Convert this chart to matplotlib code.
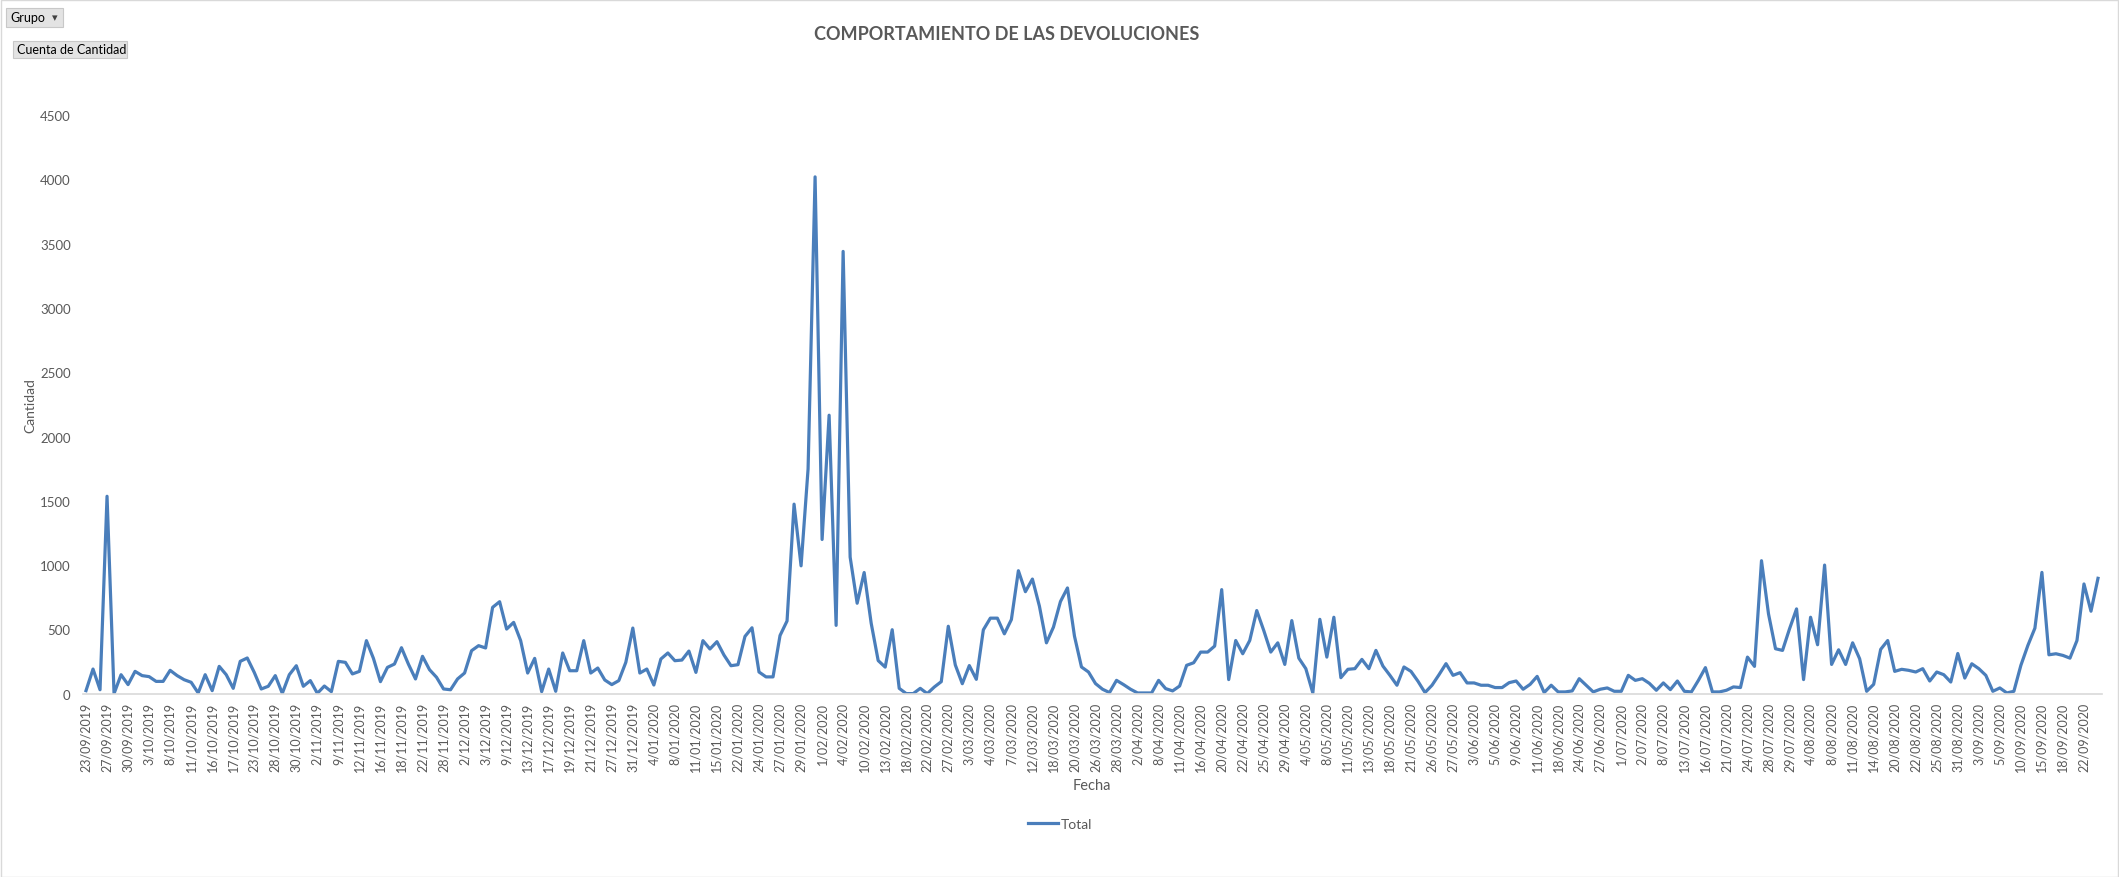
import numpy as np
import matplotlib.pyplot as plt
from matplotlib.patches import Rectangle

plt.rcParams['font.family'] = ['Lato', 'DejaVu Sans']

# daily count of returns (Cuenta de Cantidad), 288 records
cantidad = [
    23, 191, 30, 1535, 0, 147, 70, 173, 140, 132, 95, 95, 181, 140, 108, 88, 5, 147, 23, 212, 147, 41, 251, 277,
    165, 36, 57, 140, 2, 147, 217, 57, 101, 2, 59, 15, 251, 243, 153, 173, 412, 274, 93, 204, 230, 357, 228, 114,
    290, 186, 127, 36, 30, 114, 160, 334, 373, 355, 671, 715, 502, 554, 412, 160, 274, 15, 191, 18, 316, 178, 178, 412,
    160, 199, 106, 70, 101, 243, 510, 160, 191, 67, 269, 316, 256, 261, 331, 165, 412, 347, 404, 300, 217, 225, 445, 512,
    168, 130, 130, 452, 565, 1474, 994, 1748, 4020, 1199, 2166, 531, 3440, 1062, 703, 942, 548, 257, 206, 497, 41, 0, 0, 41,
    0, 51, 93, 524, 223, 77, 218, 111, 496, 587, 587, 465, 576, 956, 793, 891, 680, 395, 517, 716, 822, 447, 207, 168,
    78, 34, 8, 103, 70, 34, 5, 5, 5, 103, 39, 21, 59, 220, 240, 323, 323, 370, 809, 109, 413, 310, 413, 646,
    491, 323, 395, 227, 568, 276, 194, 5, 578, 284, 594, 124, 189, 194, 266, 194, 336, 214, 142, 65, 207, 173, 96, 8,
    65, 147, 233, 142, 163, 83, 83, 65, 65, 47, 47, 85, 98, 34, 72, 134, 8, 65, 13, 13, 21, 116, 65, 13,
    34, 44, 18, 18, 142, 103, 116, 80, 26, 83, 31, 98, 18, 13, 103, 202, 13, 13, 26, 52, 47, 284, 212, 1034,
    620, 349, 336, 504, 659, 109, 594, 380, 1000, 227, 341, 227, 395, 271, 18, 72, 344, 413, 173, 189, 181, 168, 194, 98,
    168, 147, 90, 312, 121, 232, 194, 142, 18, 44, 5, 18, 220, 375, 509, 943, 302, 310, 297, 276, 413, 853, 641, 897,
]

# every third date is shown on the axis
fechas = [
    '23/09/2019', '27/09/2019', '30/09/2019', '3/10/2019', '8/10/2019', '11/10/2019', '16/10/2019', '17/10/2019',
    '23/10/2019', '28/10/2019', '30/10/2019', '2/11/2019', '9/11/2019', '12/11/2019', '16/11/2019', '18/11/2019',
    '22/11/2019', '28/11/2019', '2/12/2019', '3/12/2019', '9/12/2019', '13/12/2019', '17/12/2019', '19/12/2019',
    '21/12/2019', '27/12/2019', '31/12/2019', '4/01/2020', '8/01/2020', '11/01/2020', '15/01/2020', '22/01/2020',
    '24/01/2020', '27/01/2020', '29/01/2020', '1/02/2020', '4/02/2020', '10/02/2020', '13/02/2020', '18/02/2020',
    '22/02/2020', '27/02/2020', '3/03/2020', '4/03/2020', '7/03/2020', '12/03/2020', '18/03/2020', '20/03/2020',
    '26/03/2020', '28/03/2020', '2/04/2020', '8/04/2020', '11/04/2020', '16/04/2020', '20/04/2020', '22/04/2020',
    '25/04/2020', '29/04/2020', '4/05/2020', '8/05/2020', '11/05/2020', '13/05/2020', '18/05/2020', '21/05/2020',
    '26/05/2020', '27/05/2020', '3/06/2020', '5/06/2020', '9/06/2020', '11/06/2020', '18/06/2020', '24/06/2020',
    '27/06/2020', '1/07/2020', '2/07/2020', '8/07/2020', '13/07/2020', '16/07/2020', '21/07/2020', '24/07/2020',
    '28/07/2020', '29/07/2020', '4/08/2020', '8/08/2020', '11/08/2020', '14/08/2020', '20/08/2020', '22/08/2020',
    '25/08/2020', '31/08/2020', '3/09/2020', '5/09/2020', '10/09/2020', '15/09/2020', '18/09/2020', '22/09/2020',
]

gris = '#595959'
azul = '#4A7EBB'

W, H = 2119, 878
fig = plt.figure(figsize=(W / 100, H / 100), dpi=100)
fig.patch.set_facecolor('white')
fig.patches.append(Rectangle((0.5 / W, 0.5 / H), 1 - 1.5 / W, 1 - 1.5 / H, transform=fig.transFigure,
                             fill=False, edgecolor='#d9d9d9', lw=1))

ax = fig.add_axes([82.5 / W, (H - 694.6) / H, (2101.5 - 82.5) / W, (694.6 - 116.2) / H])
x = np.arange(len(cantidad))
ax.plot(x, cantidad, color=azul, lw=2.3, solid_joinstyle='round', label='Total')

ax.set_xlim(-0.5, len(cantidad) - 0.5)
ax.set_ylim(0, 4500)
ax.set_yticks(range(0, 4501, 500))
ax.set_xticks(x[::3])
ax.set_xticklabels(fechas, rotation=90, fontsize=9, color=gris)
ax.tick_params(axis='y', length=0, labelsize=9.5, labelcolor=gris, pad=8.5)
ax.tick_params(axis='x', length=0, pad=6)

for s in ['top', 'right', 'left']:
    ax.spines[s].set_visible(False)
ax.spines['bottom'].set_color('#d9d9d9')
ax.spines['bottom'].set_linewidth(1.2)

ax.set_xlabel('Fecha', fontsize=10.5, color=gris, labelpad=5)
fig.text(30 / W, 1 - 406 / H, 'Cantidad', rotation=90, fontsize=10, color=gris,
         ha='center', va='center')

fig.text(1007 / W, 1 - 35 / H, 'COMPORTAMIENTO DE LAS DEVOLUCIONES', fontsize=13,
         fontweight='bold', color=gris, ha='center', va='center')

leg = ax.legend(loc='center', bbox_to_anchor=(1060 / W, 1 - 825 / H), bbox_transform=fig.transFigure,
                frameon=False, fontsize=10, handlelength=2.2, handletextpad=0.2)
for t in leg.get_texts():
    t.set_color(gris)

# pivot field buttons
for (x0, y0, x1, y1), txt in [((6, 9, 63, 28), 'Grupo'), ((13, 42, 127, 59), 'Cuenta de Cantidad')]:
    fig.patches.append(Rectangle((x0 / W, 1 - y1 / H), (x1 - x0) / W, (y1 - y0) / H,
                                 transform=fig.transFigure, facecolor='#e3e3e3',
                                 edgecolor='#c8c8c8', lw=0.8))
    fig.text((x0 + 4) / W, 1 - (y0 + y1) / 2 / H, txt, fontsize=9, color='black',
             ha='left', va='center')
fig.text(55 / W, 1 - 18 / H, '\u25BE', fontsize=8, color='#404040', ha='center', va='center',
         family='DejaVu Sans')

fig.savefig('out.png', dpi=100)
